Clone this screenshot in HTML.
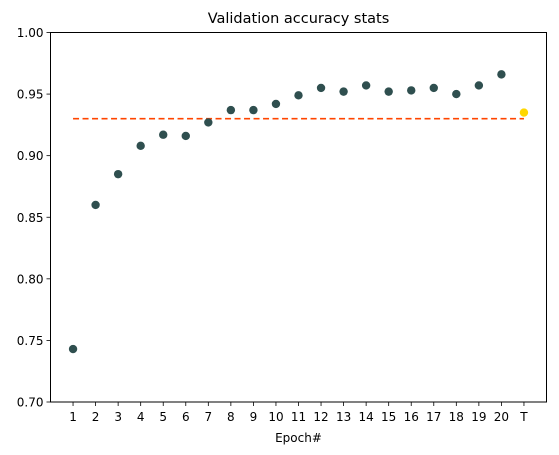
<!DOCTYPE html>
<html><head><meta charset="utf-8"><style>body{margin:0;background:#fff}svg{display:block;font-family:"DejaVu Sans","Liberation Sans",sans-serif}</style></head>
<body>
<svg id="c" width="559" height="455"></svg>
<script>
const categories=["1","2","3","4","5","6","7","8","9","10","11","12","13","14","15","16","17","18","19","20","T"];
const epochValues=[0.743,0.860,0.885,0.908,0.917,0.916,0.927,0.937,0.937,0.942,0.949,0.955,0.952,0.957,0.952,0.953,0.955,0.950,0.957,0.966];
const testValue=[0.935];
const baselineValue=[0.930];
const yTicks=[0.70,0.75,0.80,0.85,0.90,0.95,1.00];
const L=50.5,R=546.5,T=32.5,B=402;
const xs=i=>L+(i+1)*(R-L)/22;
const ys=v=>B-(v-0.70)/0.30*(B-T);
const svg=document.getElementById('c');const NS='http://www.w3.org/2000/svg';
function mk(tag,attrs,parent){const e=document.createElementNS(NS,tag);for(const k in attrs)e.setAttribute(k,attrs[k]);(parent||svg).appendChild(e);return e;}
let t=mk('text',{x:(L+R)/2,y:23,'text-anchor':'middle','font-size':14.5,fill:'#000'});t.textContent='Validation accuracy stats';


yTicks.forEach(v=>{const y=ys(v);
const tk=mk('line',{x1:L-4,x2:L,y1:y,y2:y,stroke:'#000','stroke-width':0.8});


const lb=mk('text',{x:L-7,y:y+4.5,'text-anchor':'end','font-size':12});lb.textContent=v.toFixed(2);

});
categories.forEach((c,i)=>{const x=xs(i);
const tk=mk('line',{x1:x,x2:x,y1:B,y2:B+4,stroke:'#000','stroke-width':0.8});


const lb=mk('text',{x:x,y:B+19,'text-anchor':'middle','font-size':12});lb.textContent=c;

});
const xt=mk('text',{x:(L+R)/2,y:442,'text-anchor':'middle','font-size':12});xt.textContent='Epoch#';


const bl=mk('line',{x1:xs(0),x2:xs(categories.length-1),y1:ys(baselineValue[0]),y2:ys(baselineValue[0]),stroke:'#ff4500','stroke-width':1.6,'stroke-dasharray':'6,3.5'});


epochValues.forEach((v,i)=>{const p=mk('circle',{cx:xs(i),cy:ys(v),r:4.2,fill:'#2f4f4f'});

});
const tp=mk('circle',{cx:xs(categories.length-1),cy:ys(testValue[0]),r:4.2,fill:'#ffd700'});


const fr=mk('rect',{x:L,y:T,width:R-L,height:B-T,fill:'none',stroke:'#000','stroke-width':1});


</script>
</body></html>
